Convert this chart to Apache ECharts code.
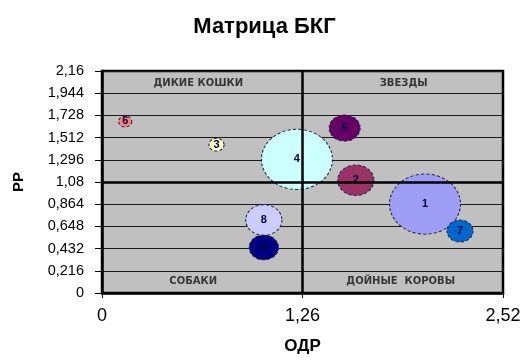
<!DOCTYPE html>
<html>
<head>
<meta charset="utf-8">
<script src="https://cdn.jsdelivr.net/npm/echarts@6/dist/echarts.min.js"></script>
<style>html,body{margin:0;padding:0;background:#fff}#c{width:529px;height:364px}</style>
</head>
<body>
<div id="c"></div>
<script>
var names = ['1','2','3','4','5','6','7','8','9'];
var odr = [2.03, 1.595, 0.72, 1.225, 1.525, 0.146, 2.25, 1.017, 1.017];
var rr  = [0.865, 1.097, 1.443, 1.30, 1.605, 1.669, 0.603, 0.71, 0.443];
var sizes = [100, 26, 4.5, 100, 19, 3.4, 13.4, 26, 17];
var colors = ['#9E9EF6','#993366','#FFFFCC','#CCFFFF','#660066','#FF8080','#0066CC','#CCCCFF','#000080'];
var quadNames = ['ДИКИЕ КОШКИ','ЗВЕЗДЫ','СОБАКИ','ДОЙНЫЕ  КОРОВЫ'];
var quadX = [0.605, 1.896, 0.573, 1.877];
var quadY = [2.043, 2.043, 0.117, 0.117];
var yTicks = {min: 0, max: 2.16, interval: 0.216};
var xTicks = {min: 0, max: 2.52, interval: 1.26};

function fmt(v){ return String(parseFloat(v.toFixed(3))).replace('.', ','); }

var bubbleData = names.map(function(n, i){
  return {name: n, value: [odr[i], rr[i], sizes[i]], itemStyle: {color: colors[i]}};
});
var quadData = quadNames.map(function(n, i){ return {name: n, value: [quadX[i], quadY[i]]}; });

var chart = echarts.init(document.getElementById('c'), null, {renderer: 'canvas'});
chart.setOption({
  animation: false,
  title: {text: 'Матрица БКГ', left: 'center', top: 11,
    textStyle: {fontFamily: 'Liberation Sans, Arial', fontWeight: 'bold', fontSize: 22, color: '#000'}},
  grid: {left: 102, right: 26, top: 71, bottom: 71, show: true, backgroundColor: '#C0C0C0',
    borderColor: '#000', borderWidth: 2.5},
  xAxis: {type: 'value', min: xTicks.min, max: xTicks.max, interval: xTicks.interval,
    name: 'ОДР', nameLocation: 'middle', nameGap: 45,
    nameTextStyle: {fontFamily: 'Liberation Sans, Arial', fontWeight: 'bold', fontSize: 17, color: '#000'},
    axisLine: {show: true, lineStyle: {color: '#000', width: 2.5}},
    axisTick: {show: true, length: 5, lineStyle: {color: '#000', width: 1}},
    axisLabel: {formatter: fmt, margin: 14, fontFamily: 'Liberation Sans, Arial', fontSize: 18, color: '#000'},
    splitLine: {show: false}},
  yAxis: {type: 'value', min: yTicks.min, max: yTicks.max, interval: yTicks.interval,
    name: 'РР', nameLocation: 'middle', nameGap: 76, nameRotate: 90,
    nameTextStyle: {fontFamily: 'Liberation Sans, Arial', fontWeight: 'bold', fontSize: 15, color: '#000'},
    axisLine: {show: true, lineStyle: {color: '#000', width: 2.5}},
    axisTick: {show: true, length: 7, lineStyle: {color: '#000', width: 1}},
    axisLabel: {formatter: fmt, margin: 18, fontFamily: 'Liberation Sans, Arial', fontSize: 14.5, color: '#000'},
    splitLine: {show: true, lineStyle: {color: '#1a1a1a', width: 1}}},
  series: [
    {type: 'scatter', data: bubbleData,
      symbolSize: function(v){ var w = 71 * Math.sqrt(v[2] / 100); return [w, w / 1.18]; },
      itemStyle: {borderColor: '#222244', borderWidth: 1, borderType: [3, 2], opacity: 1},
      label: {show: true, position: 'inside', formatter: '{b}', fontFamily: 'Liberation Sans, Arial',
        fontWeight: 'bold', fontSize: 11, color: '#000040'},
      markLine: {silent: true, symbol: 'none', label: {show: false},
        lineStyle: {color: '#000', width: 2.5, type: 'solid'},
        data: [{yAxis: 1.08}, {xAxis: 1.26}]},
      z: 3},
    {type: 'scatter', data: quadData, symbolSize: 0, silent: true,
      label: {show: true, position: 'inside', formatter: '{b}', fontFamily: 'DejaVu Sans',
        fontWeight: 'bold', fontSize: 10, color: '#111'},
      z: 4}
  ]
});
</script>
</body>
</html>
